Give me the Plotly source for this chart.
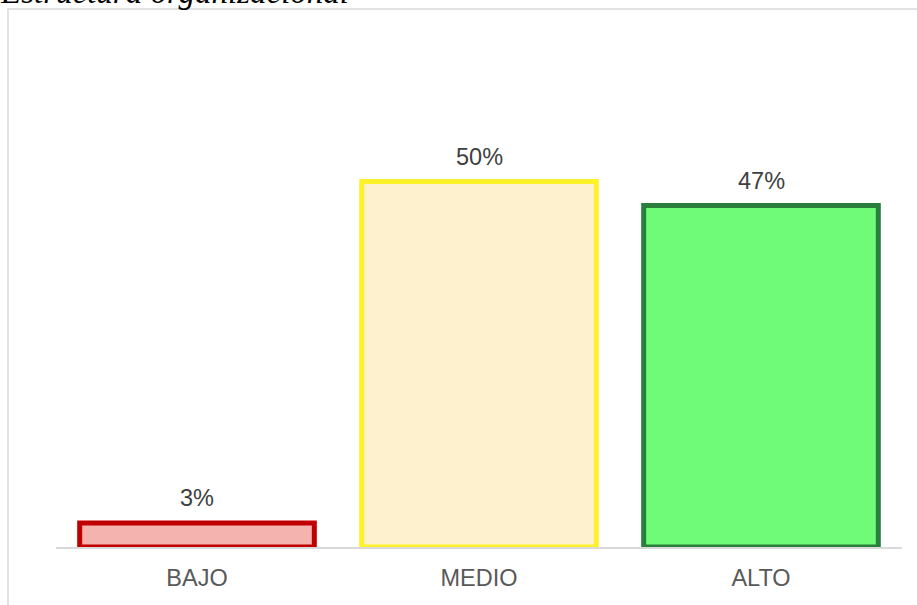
import plotly.graph_objects as go

categories = ["BAJO", "MEDIO", "ALTO"]
values = [0.033, 0.500, 0.467]
labels = ["3%", "50%", "47%"]
fill_colors = ["#F5B3AF", "#FDF1CE", "#6FFB78"]
line_colors = ["#C00000", "#FFF22B", "#2A7E3C"]
title_text = "Estructura organizacional"

W, H = 917, 605
ml, mr, mt, mb = 56, 15, 30, 58
pw = W - ml - mr
ph = H - mt - mb

fig = go.Figure()
fig.add_trace(go.Bar(
    x=categories, y=values,
    marker=dict(color=fill_colors, line=dict(color=line_colors, width=5)),
    hoverinfo="skip",
))

for c, v, t in zip(categories, values, labels):
    fig.add_annotation(x=c, y=v, text=t, showarrow=False, xref="x", yref="y",
                       yanchor="bottom", yshift=10,
                       font=dict(family="Liberation Sans, Arial", size=23.5, color="#404040"))

# title (partially cut at top)
fig.add_annotation(xref="paper", yref="paper", x=(-2 - ml) / pw, y=(H - mb - 12) / ph,
                   xanchor="left", yanchor="bottom", showarrow=False, text=title_text,
                   font=dict(family="Liberation Serif, Times New Roman", size=33,
                             color="#000000", style="italic"))

# outer chart border
fig.add_shape(type="rect", xref="paper", yref="paper",
              x0=(8 - ml) / pw, x1=1.2, y0=-0.3, y1=(H - mb - 9) / ph,
              line=dict(color="#D9D9D9", width=1.5), fillcolor="rgba(0,0,0,0)", layer="below")

fig.update_layout(
    width=W, height=H,
    margin=dict(l=ml, r=mr, t=mt, b=mb),
    paper_bgcolor="white", plot_bgcolor="white",
    bargap=0.168,
    showlegend=False,
    hovermode=False,
    xaxis=dict(showline=True, linecolor="#D9D9D9", linewidth=1.5, showgrid=False,
               ticks="", tickfont=dict(family="Liberation Sans, Arial", size=23.5, color="#595959"),
               ticklabelstandoff=9),
    yaxis=dict(range=[0, ph / 731.0], visible=False, showgrid=False, zeroline=False),
)

fig.write_html("out.html", config={"displayModeBar": False},
               post_script="document.body.style.margin='0';document.body.style.overflow='hidden';")
